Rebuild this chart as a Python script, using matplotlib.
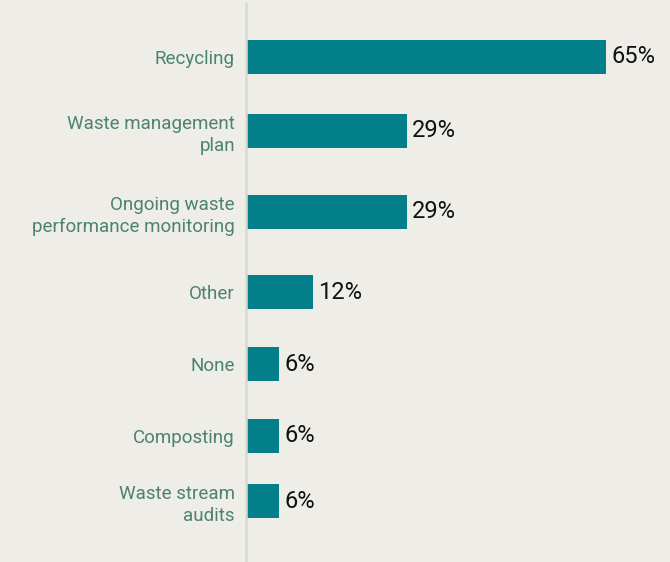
import matplotlib
matplotlib.use("Agg")
import matplotlib.pyplot as plt

# data
categories = ["Recycling", "Waste management\nplan", "Ongoing waste\nperformance monitoring",
              "Other", "None", "Composting", "Waste stream\naudits"]
values = [65, 29, 29, 12, 6, 6, 6]

# layout: vertical slot of each bar (the original spacing is uneven)
slots = [0, 1.0, 2.09, 3.18, 4.15, 5.12, 6.0]

bg = "#eeede8"
bar_color = "#037f8c"
label_color = "#4b8270"

plt.rcParams["font.family"] = ["Roboto", "DejaVu Sans"]

fig = plt.figure(figsize=(6.7, 5.62), dpi=100, facecolor=bg)
ax = fig.add_axes([246 / 670, 0, 1 - 246 / 670, 558 / 562])
ax.set_facecolor(bg)

ax.barh(slots, values, height=0.46, color=bar_color)

for s, v in zip(slots, values):
    ax.text(v + 1.0, s, f"{v}%", va="center", ha="left", fontsize=17, color="#111111")

ax.set_yticks(slots)
ax.set_yticklabels(categories, fontsize=13.5, color=label_color, linespacing=1.3)
ax.tick_params(axis="y", length=0, pad=8)
ax.set_xticks([])
ax.set_ylim(6.824, -0.716)
ax.set_xlim(0, 76.5)

for side in ["top", "right", "bottom"]:
    ax.spines[side].set_visible(False)
ax.spines["left"].set_color("#d9d9d4")
ax.spines["left"].set_linewidth(1.8)

fig.savefig("out.png", dpi=100, facecolor=bg)
